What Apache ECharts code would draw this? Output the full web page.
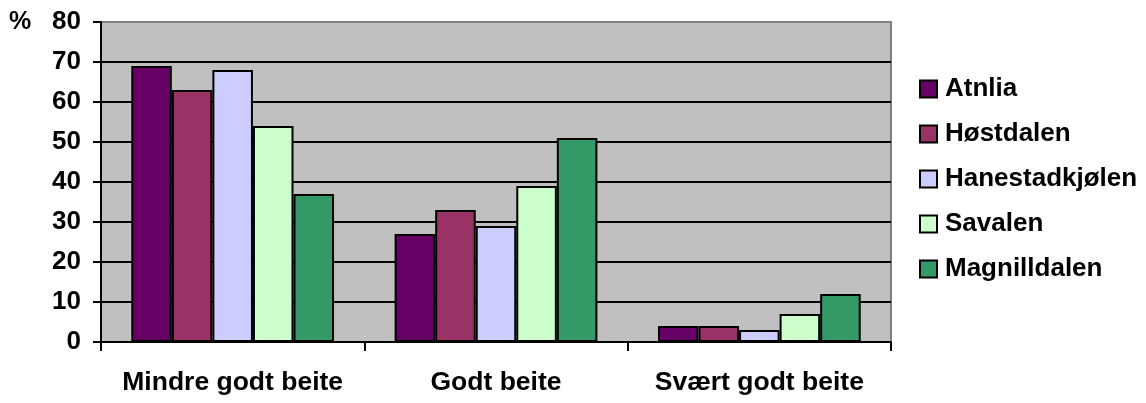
<!DOCTYPE html>
<html><head><meta charset="utf-8">
<script src="https://cdn.jsdelivr.net/npm/echarts@6/dist/echarts.min.js"></script>
<style>html,body{margin:0;padding:0;background:#fff;}#c{width:1146px;height:403px;}</style>
</head><body><div id="c"></div>
<script>
const categories = ['Mindre godt beite', 'Godt beite', 'Svært godt beite'];
const seriesNames = ['Atnlia', 'Høstdalen', 'Hanestadkjølen', 'Savalen', 'Magnilldalen'];
const atnlia = [69, 27, 4];
const hostdalen = [63, 33, 4];
const hanestadkjolen = [68, 29, 3];
const savalen = [54, 39, 7];
const magnilldalen = [37, 51, 12];
const yTicks = [0, 10, 20, 30, 40, 50, 60, 70, 80];
const colors = ['#660066', '#993366', '#CCCCFF', '#CCFFCC', '#339966'];

const values = [atnlia, hostdalen, hanestadkjolen, savalen, magnilldalen];
const font = '"Liberation Sans", Arial, sans-serif';
const chart = echarts.init(document.getElementById('c'), null, {renderer: 'canvas'});
const gridColors = yTicks.map((t, i) => i === yTicks.length - 1 ? '#808080' : '#000');
chart.setOption({
  animation: false,
  grid: {left: 101, top: 22, right: 255, bottom: 61, show: true, backgroundColor: '#c0c0c0', borderColor: '#808080', borderWidth: 2},
  legend: {
    orient: 'vertical', left: 914, top: 71, itemWidth: 17, itemHeight: 17, itemGap: 19,
    icon: 'rect',
    data: seriesNames,
    itemStyle: {borderColor: '#000', borderWidth: 2},
    textStyle: {fontFamily: font, fontWeight: 'bold', fontSize: 26, color: '#000', lineHeight: 26, padding: [0, 0, 0, 3]}
  },
  xAxis: {
    type: 'category', data: categories,
    axisLine: {lineStyle: {color: '#000', width: 2}},
    axisTick: {show: true, length: 9, lineStyle: {color: '#000', width: 2}},
    axisLabel: {interval: 0, fontFamily: font, fontWeight: 'bold', fontSize: 26.5, color: '#000', margin: 27}
  },
  yAxis: {
    type: 'value', min: 0, max: 80, interval: 10,
    axisLine: {show: true, lineStyle: {color: '#000', width: 2}},
    axisTick: {show: true, length: 8, lineStyle: {color: '#000', width: 2}},
    splitLine: {show: true, lineStyle: {color: gridColors, width: 2}},
    axisLabel: {fontFamily: font, fontWeight: 'bold', fontSize: 26, color: '#000', margin: 20}
  },
  graphic: [{type: 'text', left: 9, top: 10, style: {text: '%', font: 'bold 25px ' + font, fill: '#000'}}],
  series: seriesNames.map((n, i) => ({
    name: n, type: 'bar', data: values[i], barGap: '0%', barCategoryGap: '23%',
    itemStyle: {color: colors[i], borderColor: '#000', borderWidth: 2}
  }))
});
</script></body></html>
